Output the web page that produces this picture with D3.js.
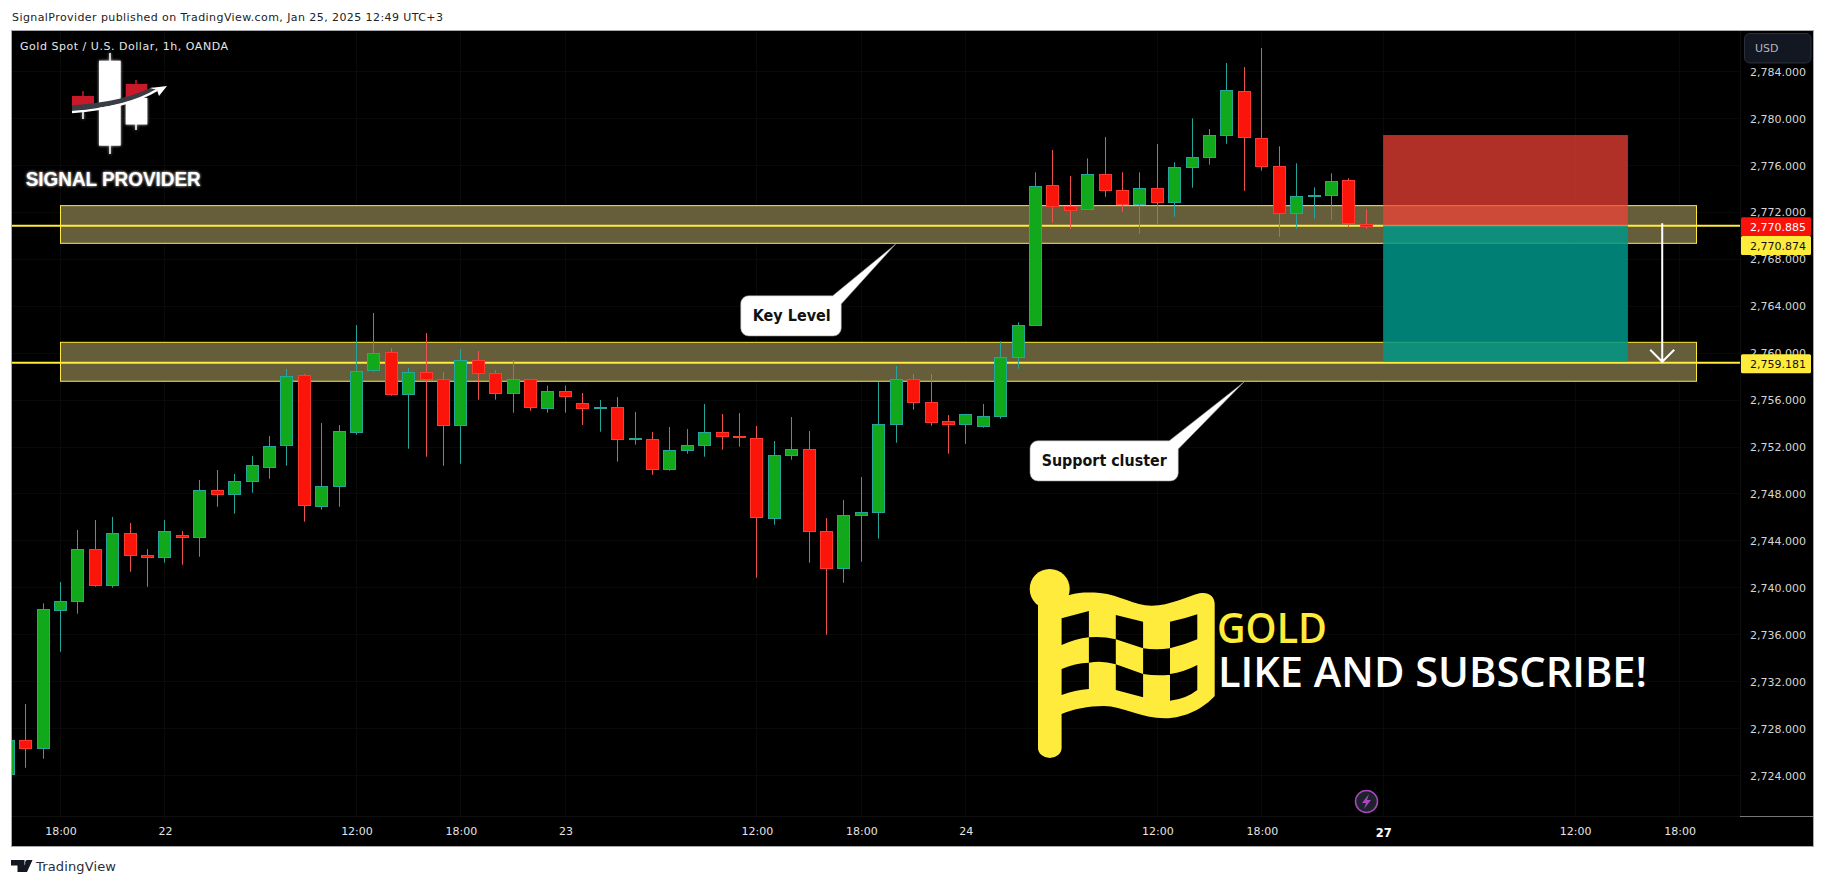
<!DOCTYPE html>
<html><head><meta charset="utf-8">
<script src="https://cdn.jsdelivr.net/npm/d3@7/dist/d3.min.js"></script>
<style>html,body{margin:0;padding:0;background:#fff;overflow:hidden}svg{display:block;font-family:"DejaVu Sans",sans-serif}</style>
</head><body><svg id="c" width="1825" height="886"></svg>
<script>
const firstBar=-3;
const opens=[2724.07,2727.00,2726.28,2738.08,2738.81,2743.28,2740.21,2744.65,2742.77,2742.60,2744.48,2744.31,2748.31,2747.97,2749.08,2750.27,2752.15,2758.12,2746.95,2748.65,2753.26,2758.54,2760.08,2756.50,2758.37,2757.77,2753.82,2759.39,2758.29,2756.58,2757.77,2755.27,2756.75,2755.73,2755.35,2755.39,2752.63,2752.66,2750.10,2751.72,2752.15,2753.26,2752.86,2752.74,2745.93,2751.30,2751.81,2744.82,2741.66,2746.18,2746.44,2753.94,2757.77,2755.81,2754.19,2753.94,2753.77,2754.62,2759.65,2762.38,2774.31,2772.52,2772.27,2775.25,2773.89,2772.69,2774.06,2772.86,2775.85,2776.70,2778.58,2782.33,2778.32,2775.93,2771.93,2773.38,2773.46,2774.74,2770.95];
const closes=[2727.00,2726.28,2738.17,2738.85,2743.28,2740.21,2744.65,2742.77,2742.60,2744.82,2744.31,2748.31,2747.97,2749.08,2750.44,2752.06,2758.03,2747.03,2748.65,2753.34,2758.46,2759.99,2756.50,2758.37,2757.77,2753.84,2759.39,2758.29,2756.58,2757.77,2755.35,2756.75,2756.29,2755.30,2755.41,2752.66,2752.69,2750.10,2751.72,2752.15,2753.26,2752.92,2752.80,2746.01,2751.30,2751.81,2744.82,2741.66,2746.18,2746.44,2753.94,2757.77,2755.78,2754.11,2753.94,2754.79,2754.62,2759.65,2762.38,2774.23,2772.52,2772.18,2775.25,2773.89,2772.69,2774.06,2772.86,2775.85,2776.70,2778.58,2782.41,2778.41,2775.93,2771.93,2773.38,2773.46,2774.65,2771.07,2770.82];
const highs=[2727.00,2730.09,2738.68,2740.49,2744.93,2745.78,2746.04,2745.52,2743.31,2745.78,2744.84,2749.19,2750.04,2749.70,2751.24,2752.94,2758.65,2758.23,2754.05,2753.88,2762.40,2763.43,2760.44,2758.74,2761.72,2758.40,2760.36,2760.19,2758.57,2759.42,2757.77,2757.23,2757.23,2756.61,2756.01,2756.27,2754.99,2753.28,2753.71,2753.54,2755.67,2754.82,2754.90,2753.79,2752.51,2754.56,2753.37,2745.95,2747.48,2749.45,2757.54,2758.91,2758.23,2758.23,2754.73,2754.79,2755.67,2761.01,2762.63,2775.42,2777.32,2775.11,2776.61,2778.43,2775.42,2775.42,2777.83,2776.27,2780.02,2779.11,2784.74,2784.40,2786.02,2777.64,2776.19,2774.14,2775.34,2774.91,2772.27];
const lows=[2724.07,2724.66,2725.43,2734.55,2737.79,2740.09,2740.01,2741.37,2740.09,2742.14,2741.97,2742.65,2746.91,2746.32,2748.11,2749.30,2750.41,2745.64,2746.66,2746.91,2753.05,2758.42,2756.38,2751.86,2751.18,2750.41,2750.58,2756.04,2756.04,2754.93,2755.10,2754.93,2754.93,2753.88,2753.31,2750.75,2752.20,2749.64,2749.98,2751.43,2751.18,2751.77,2752.03,2740.86,2745.38,2750.92,2742.14,2736.00,2740.43,2742.22,2744.19,2752.37,2755.18,2753.82,2751.43,2752.28,2753.65,2754.42,2758.68,2762.38,2771.13,2770.61,2772.27,2773.34,2772.06,2770.19,2771.04,2771.64,2774.11,2776.07,2777.86,2773.85,2775.56,2769.93,2770.61,2771.47,2771.38,2770.78,2770.61];
const priceTicks=[2724,2728,2732,2736,2740,2744,2748,2752,2756,2760,2764,2768,2772,2776,2780,2784];
const timeIdx=[0,6,17,23,29,40,46,52,63,69,87,93];
const timeLabels=["18:00","22","12:00","18:00","23","12:00","18:00","24","12:00","18:00","12:00","18:00"];
const boldIdx=76, boldLabel="27";
const zones=[[2772.58,2769.37],[2760.93,2757.61]];
const zoneSpan=[0,93.97];
const levels=[2770.874,2759.181];
const lastPrice=2770.885;
const entryStopTarget=[2778.6,2770.88,2759.29];
const toolSpan=[75.97,90.03];
const arrowFrom=[92,2771.08], arrowTo=[92,2759.27];

const P={l:11,t:30,r:1813,b:846,ax:1740,tb:816};
const svg=d3.select("#c");
const x=d3.scaleLinear().domain([0,100]).range([60.5,1801.5]);
const y=d3.scaleLinear().domain([2724,2784]).range([775.5,71.7]);
const col=v=>Math.floor(x(v))+.5;
const row=v=>Math.floor(y(v))+.5;

svg.append("defs").html(`<clipPath id="plot"><rect x="12" y="31" width="${P.ax-12}" height="${P.tb-31}"/></clipPath>
<filter id="glow" x="-30%" y="-30%" width="160%" height="160%"><feGaussianBlur stdDeviation="1.6"/></filter>`);
svg.append("rect").attr("x",P.l+.5).attr("y",P.t+.5).attr("width",P.r-P.l).attr("height",P.b-P.t).attr("fill","#000").attr("stroke","#a8a8ad");

// header
svg.append("text").attr("x",12).attr("y",21).attr("font-size",11).attr("fill","#222").attr("textLength",431).text("SignalProvider published on TradingView.com, Jan 25, 2025 12:49 UTC+3");
const g=svg.append("g").attr("clip-path","url(#plot)");

// faint grid
g.selectAll(".vg").data(timeIdx.concat([boldIdx])).join("line").attr("x1",col).attr("x2",col).attr("y1",31).attr("y2",P.tb).attr("stroke","#090909");
g.selectAll(".hg").data(priceTicks).join("line").attr("y1",row).attr("y2",row).attr("x1",12).attr("x2",P.ax).attr("stroke","#090909");

// zones + levels
g.selectAll(".zone").data(zones).join("rect")
 .attr("x",x(zoneSpan[0])).attr("width",x(zoneSpan[1])-x(zoneSpan[0]))
 .attr("y",d=>y(d[0])).attr("height",d=>y(d[1])-y(d[0]))
 .attr("fill","#665e3a").attr("stroke","#ffeb3b").attr("stroke-width",1);
g.selectAll(".lvl").data(levels).join("line").attr("x1",12).attr("x2",P.ax)
 .attr("y1",y).attr("y2",y).attr("stroke","#ffeb3b").attr("stroke-width",2);

// candles
const bars=opens.map((o,i)=>({i:i+firstBar,o,c:closes[i],h:highs[i],l:lows[i],up:closes[i]>=o}));
const bg=g.selectAll(".bar").data(bars).join("g");
bg.append("line").attr("x1",d=>col(d.i)).attr("x2",d=>col(d.i)).attr("y1",d=>y(d.h)).attr("y2",d=>y(d.l))
 .attr("stroke",d=>d.up?"#26a69a":"#ef5350");
bg.append("rect").attr("x",d=>col(d.i)-6).attr("width",12)
 .attr("y",d=>row(Math.max(d.o,d.c))).attr("height",d=>Math.max(1,row(Math.min(d.o,d.c))-row(Math.max(d.o,d.c))))
 .attr("fill",d=>d.up?"#12a81c":"#fa140a").attr("stroke",d=>d.up?"#26a69a":"#ff3a30");

// short position tool
g.append("rect").attr("x",x(toolSpan[0])).attr("width",x(toolSpan[1])-x(toolSpan[0]))
 .attr("y",y(entryStopTarget[0])).attr("height",y(entryStopTarget[1])-y(entryStopTarget[0])).attr("fill","#f44336").attr("fill-opacity",.72);
g.append("rect").attr("x",x(toolSpan[0])).attr("width",x(toolSpan[1])-x(toolSpan[0]))
 .attr("y",y(entryStopTarget[1])).attr("height",y(entryStopTarget[2])-y(entryStopTarget[1])).attr("fill","#009688").attr("fill-opacity",.85);

// arrow
const ax=x(arrowFrom[0]), ay0=y(arrowFrom[1]), ay1=y(arrowTo[1]);
g.append("path").attr("d",`M${ax},${ay0}V${ay1}M${ax-12},${ay1-12}L${ax},${ay1}L${ax+12},${ay1-12}`)
 .attr("fill","none").attr("stroke","#fff").attr("stroke-width",2);

// callouts
function callout(d,tx,bl,tw,label){
 g.append("path").attr("d",d).attr("fill","#fff").attr("stroke","#8a8a8a").attr("stroke-width",.6);
 g.append("text").attr("x",tx).attr("y",bl).attr("font-size",15).attr("font-weight","bold").attr("fill","#111").attr("textLength",tw).attr("lengthAdjust","spacingAndGlyphs").text(label);
}
callout("M749,295.7H832.7L895.7,244L841.3,304V328a8,8 0 0 1 -8,8H748.7a8,8 0 0 1 -8,-8V303.7a8,8 0 0 1 8,-8Z",752.7,320.7,78,"Key Level");
callout("M1038,440.7H1169.3L1244,382L1178.3,449V473a8,8 0 0 1 -8,8H1038a8,8 0 0 1 -8,-8V448.7a8,8 0 0 1 8,-8Z",1041.7,466,125,"Support cluster");

// flag
const Y="#ffeb3b";
g.append("circle").attr("cx",1049.7).attr("cy",589).attr("r",20).attr("fill",Y);
g.append("path").attr("fill-rule","evenodd").attr("fill",Y).attr("d",
 "M1038,600 L1069.4,595 C1080,592 1090,592.5 1100,593 C1120,595 1135,606 1152,605.7 C1170,605.5 1186,597 1199.5,593.3 C1208,591.5 1214.7,596 1214.7,604 L1214.7,696 C1205,707 1186,718.3 1164.8,718.3 C1142,718.3 1122,706 1104,706 C1088,706 1073,709 1061.6,714 L1061.6,748 A11.8,10 0 0 1 1038,748 Z "+
 "M1061.6,618.3 L1088.9,611 L1088.9,637.3 Q1075,639 1061.6,645 Z "+
 "M1115.8,615 L1143.1,621.7 L1143.1,648.3 L1115.8,639.3 Z "+
 "M1170,621.7 Q1184,619 1197.3,614.3 L1197.3,639.3 Q1184,645 1170,648.3 Z "+
 "M1088.9,637.3 Q1102,636 1115.8,639.3 L1115.8,664.3 Q1102,660 1088.9,662.7 Z "+
 "M1143.1,648.3 Q1156,650 1170,648.3 L1170,674.7 Q1156,676 1143.1,674 Z "+
 "M1061.6,669 Q1075,663 1088.9,662.7 L1088.9,689 Q1075,690 1061.6,695 Z "+
 "M1115.8,664.3 L1143.1,674 L1143.1,697.3 L1115.8,690 Z "+
 "M1170,674 Q1184,672 1197.3,665 L1197.3,690 Q1186,699 1170,700.7 Z");
g.append("text").attr("x",1217).attr("y",642.7).attr("font-size",41).attr("font-weight",600).attr("fill",Y).style("font-family","'Open Sans'").attr("textLength",110).attr("lengthAdjust","spacingAndGlyphs").text("GOLD");
g.append("text").attr("x",1218).attr("y",686.7).attr("font-size",41).attr("font-weight",600).attr("fill","#fff").style("font-family","'Open Sans'").attr("textLength",429).attr("lengthAdjust","spacingAndGlyphs").text("LIKE AND SUBSCRIBE!");

// logo
function logoMarks(s){
 const L=s.append("g");
 L.append("path").attr("fill","none").attr("stroke","#fff").attr("stroke-width",1.5).attr("d","M110,53V154M83,112V119M136,124V130");
 L.append("rect").attr("x",99).attr("y",60.7).attr("width",21.7).attr("height",85).attr("fill","#fff");
 L.append("rect").attr("x",125.7).attr("y",98).attr("width",21.6).attr("height",26.5).attr("fill","#fff");
 return L;
}
logoMarks(g).attr("filter","url(#glow)").attr("opacity",.75);
logoMarks(g);
g.append("path").attr("d","M83,91V96M136,80V85").attr("stroke","#c8192a").attr("stroke-width",1.5);
g.append("path").attr("d","M72,96H94V106L72,106Z M125.7,84H147.3V90L125.7,98Z").attr("fill","#c8192a");
g.append("path").attr("d","M72,108 C100,106 130,102 154,89").attr("fill","none").attr("stroke","#3a3d45").attr("stroke-width",5);
g.append("path").attr("d","M72,112 C100,110 132,105 157,90").attr("fill","none").attr("stroke","#fff").attr("stroke-width",2.6);
g.append("path").attr("d","M167,86 L159,96 L157,90 L150,88 Z").attr("fill","#fff");
[["url(#glow)",.9],[null,1]].forEach(([f,o])=>{
 g.append("text").attr("x",25.7).attr("y",186).attr("font-size",20).attr("font-weight","bold").style("font-family","'Liberation Sans'").attr("fill","#fff").attr("opacity",o).attr("filter",f).attr("textLength",175).attr("lengthAdjust","spacingAndGlyphs").text("SIGNAL PROVIDER");
});
g.append("text").attr("x",20).attr("y",50).attr("font-size",11).attr("fill","#e6e6e6").attr("textLength",208).text("Gold Spot / U.S. Dollar, 1h, OANDA");

// bolt icon
g.append("circle").attr("cx",1366.5).attr("cy",801.5).attr("r",11).attr("fill","#1e222d").attr("stroke","#ab47bc").attr("stroke-width",1.5);
g.append("path").attr("d","M1369,794 L1362,803 H1366 L1364,809 L1371,800 H1367 Z").attr("fill","#ab47bc");

// axes
svg.append("line").attr("x1",P.ax+.5).attr("x2",P.ax+.5).attr("y1",31).attr("y2",P.tb).attr("stroke","#0e0e0e");
svg.append("line").attr("x1",12).attr("x2",P.ax).attr("y1",P.tb+.5).attr("y2",P.tb+.5).attr("stroke","#101010");
svg.append("line").attr("x1",P.ax).attr("x2",P.r).attr("y1",P.tb+.5).attr("y2",P.tb+.5).attr("stroke","#777");
const ya=svg.append("g").attr("transform",`translate(${P.ax},0)`)
 .call(d3.axisRight(y).tickValues(priceTicks).tickFormat(d3.format(",.3f")).tickSize(0).tickPadding(10));
ya.select(".domain").remove();
ya.selectAll("text").attr("font-size",11).attr("fill","#d6d6d6").style("font-family","'DejaVu Sans'");
const xa=svg.append("g").attr("transform",`translate(0,${P.tb+11})`)
 .call(d3.axisBottom(x).tickValues(timeIdx).tickFormat((d,i)=>timeLabels[i]).tickSize(0).tickPadding(0));
xa.select(".domain").remove();
xa.selectAll("text").attr("font-size",11).attr("fill","#e4e4e4").style("font-family","'DejaVu Sans'");
svg.append("text").attr("x",x(boldIdx)).attr("y",836.5).attr("text-anchor","middle").attr("font-size",11.5).attr("font-weight","bold").attr("fill","#fff").text(boldLabel);

// USD button
svg.append("rect").attr("x",1744.5).attr("y",33.5).attr("width",66.5).attr("height",29.5).attr("rx",5).attr("fill","#131722").attr("stroke","#2a2e39");
svg.append("text").attr("x",1755).attr("y",52).attr("font-size",11).attr("fill","#b2b5be").text("USD");

// price tags
const fmt=d3.format(",.3f");
[[217.3,lastPrice,"#f8120a","#fff"],[236,levels[0],Y,"#111"],[354.3,levels[1],Y,"#111"]].forEach(([ty,v,f,t])=>{
 svg.append("rect").attr("x",1741).attr("y",ty).attr("width",70).attr("height",19).attr("rx",1.5).attr("fill",f);
 svg.append("text").attr("x",1750).attr("y",ty+13.5).attr("font-size",11).attr("fill",t).text(fmt(v));
});

// footer
svg.append("path").attr("fill","#131722").attr("d","M11,860H24.5V872H17.5V865.5H11Z M32.5,860L27,872H21.5L27,860Z");
svg.append("circle").attr("cx",27.5).attr("cy",862.5).attr("r",2.4).attr("fill","#131722");
svg.append("text").attr("x",36).attr("y",871).attr("font-size",13).attr("fill","#2a2e39").attr("textLength",80).text("TradingView");
</script></body></html>
